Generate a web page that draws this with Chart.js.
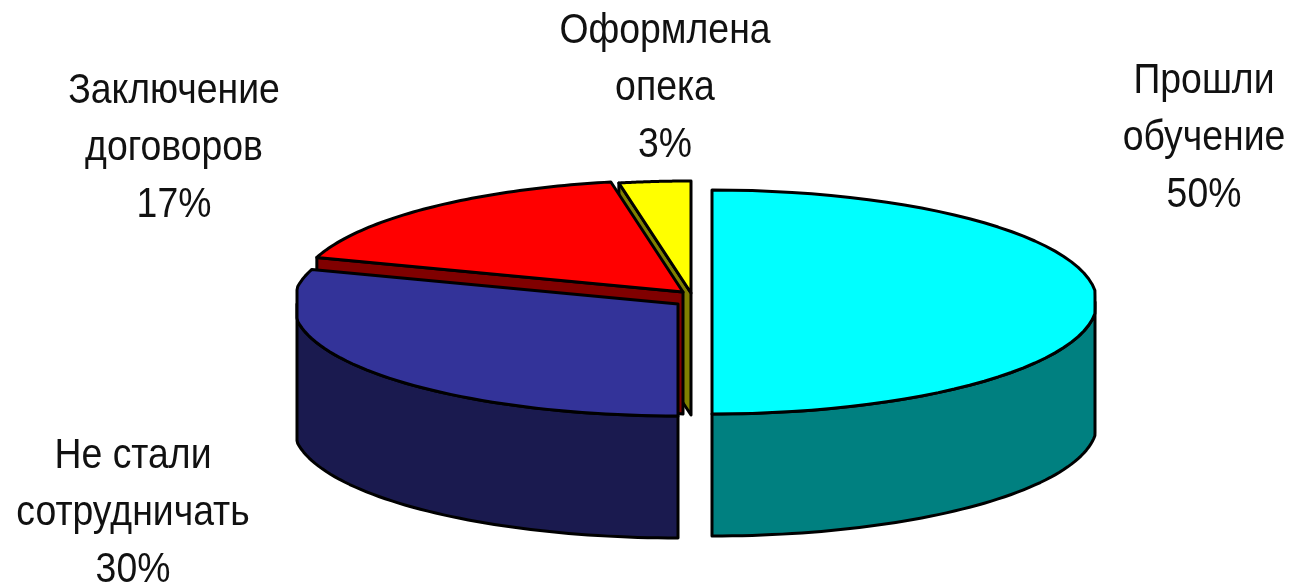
<!DOCTYPE html>
<html>
<head>
<meta charset="utf-8">
<style>
  html, body { margin: 0; background: #fff; }
  canvas { display: block; }
</style>
<script src="https://cdn.jsdelivr.net/npm/chart.js@4"></script>
</head>
<body>
<canvas id="pieChart" width="1293" height="586"></canvas>
<script>
const categories = [
    ['Прошли', 'обучение'],
    ['Не стали', 'сотрудничать'],
    ['Заключение', 'договоров'],
    ['Оформлена', 'опека']
];
const shares = [50, 30, 17, 3];

const topColors = ['#00ffff', '#333399', '#ff0000', '#ffff00'];
const wallColors = ['#008080', '#1a1a4f', '#800000', '#808000'];

// where each exploded slice sits on the page, and its label
const sliceCentres = [[712, 302], [678, 304], [683, 292], [691, 293]];
const labelSpots = [[1204, 81], [133, 456], [174, 91], [665, 31]];

const RX = 385, RY = 112, DEPTH = 122;
const MIN_X = 297, MAX_X = 1095; // the old chart has flat sides
const TEXT_SQUEEZE = 0.89;

const pie3d = {
    id: 'pie3d',
    beforeDatasetDraw(chart) {
        const ctx = chart.ctx;
        const arcs = chart.getDatasetMeta(0).data;

        // back to front
        for (const i of [3, 2, 1, 0]) {
            const arc = arcs[i];
            const a = arc.startAngle, b = arc.endAngle;
            const [cx, cy] = sliceCentres[i];
            const point = (t, dy) => [
                Math.min(MAX_X, Math.max(MIN_X, cx + RX * Math.cos(t))),
                cy + RY * Math.sin(t) + dy
            ];
            const outline = (from, to, dy) => {
                const out = [];
                for (let k = 0; k <= 60; k++) out.push(point(from + (to - from) * k / 60, dy));
                return out;
            };

            // cut face
            if (Math.cos(a) < -0.001) {
                const p = point(a, 0);
                tracePath(ctx, [[cx, cy], p, [p[0], p[1] + DEPTH], [cx, cy + DEPTH]]);
                paint(ctx, wallColors[i]);
            }

            // outer face, only the part turned to the viewer
            const from = Math.max(a, 0), to = Math.min(b, Math.PI);
            if (to > from) {
                tracePath(ctx, outline(from, to, 0).concat(outline(to, from, DEPTH)));
                paint(ctx, wallColors[i]);
            }

            // top face comes from the library's own arc
            ctx.save();
            ctx.beginPath();
            ctx.rect(MIN_X, 0, MAX_X - MIN_X, chart.height);
            ctx.clip();
            ctx.translate(cx, cy);
            ctx.scale(RX / arc.outerRadius, RY / arc.outerRadius);
            ctx.translate(-arc.x, -arc.y);
            arc.draw(ctx);
            ctx.restore();

            tracePath(ctx, [[cx, cy]].concat(outline(a, b, 0)));
            ctx.strokeStyle = '#000';
            ctx.lineWidth = 3;
            ctx.lineJoin = 'round';
            ctx.stroke();
        }
        return false;
    },
    afterDraw(chart) {
        const ctx = chart.ctx;
        ctx.save();
        ctx.font = '42px "Liberation Sans", Arial, sans-serif';
        ctx.fillStyle = '#111';
        ctx.textAlign = 'center';
        ctx.textBaseline = 'middle';
        categories.forEach((lines, i) => {
            const [x, y] = labelSpots[i];
            lines.concat(shares[i] + '%').forEach((line, n) => {
                ctx.save();
                ctx.translate(x, y + n * 57);
                ctx.scale(TEXT_SQUEEZE, 1);
                ctx.fillText(line, 0, 0);
                ctx.restore();
            });
        });
        ctx.restore();
    }
};

function tracePath(ctx, pts) {
    ctx.beginPath();
    pts.forEach((p, i) => i ? ctx.lineTo(p[0], p[1]) : ctx.moveTo(p[0], p[1]));
    ctx.closePath();
}

function paint(ctx, color) {
    ctx.fillStyle = color;
    ctx.fill();
    ctx.strokeStyle = '#000';
    ctx.lineWidth = 3;
    ctx.lineJoin = 'round';
    ctx.stroke();
}

new Chart(document.getElementById('pieChart'), {
    type: 'pie',
    data: {
        labels: categories.map(c => c.join(' ')),
        datasets: [{
            data: shares,
            backgroundColor: topColors,
            borderWidth: 0
        }]
    },
    options: {
        responsive: false,
        animation: false,
        plugins: {
            legend: { display: false },
            tooltip: { enabled: false }
        }
    },
    plugins: [pie3d]
});
</script>
</body>
</html>
